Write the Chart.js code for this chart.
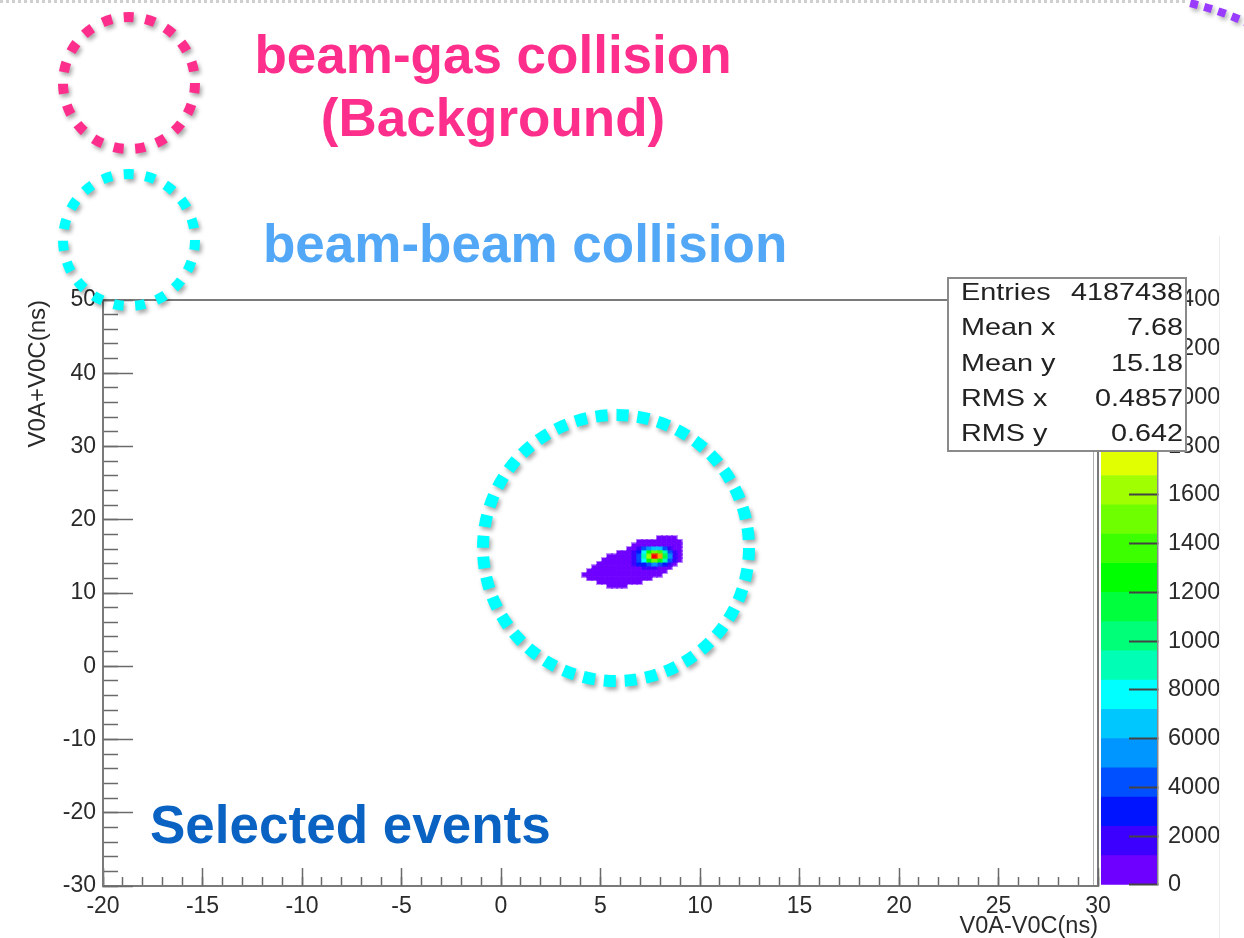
<!DOCTYPE html>
<html><head><meta charset="utf-8">
<script src="https://cdn.jsdelivr.net/npm/chart.js@4.4.1/dist/chart.umd.min.js"></script>
<style>
html,body{margin:0;padding:0;background:#fff;}
#wrap{position:relative;width:1244px;height:938px;overflow:hidden;background:#fff;}
canvas{position:absolute;top:0;}
</style></head><body>
<div id="wrap">
<canvas id="cbar" width="129" height="938" style="left:1090px;width:129px;height:938px"></canvas>
<canvas id="main" width="1244" height="938" style="left:0;width:1244px;height:938px"></canvas>
</div>
<script>
// ---------- data ----------
const xRange = [-20, 30];
const yRange = [-30, 50];
const xTickLabels = ['-20','-15','-10','-5','0','5','10','15','20','25','30'];
const yTickLabels = ['-30','-20','-10','0','10','20','30','40','50'];
const zTickLabels = ['0','2000','4000','6000','8000','10000','12000','14000','16000','18000','20000','22000','24000'];
const zMax = 24120;
const binX = [4.2,4.45,4.7,4.95,5.2,5.45,5.7,5.95,6.2,6.45,6.7,6.95,7.2,7.45,7.7,7.95,8.2,8.45,8.7,8.95,9.2];
const binY = [17.5,17.0,16.5,16.0,15.5,15.0,14.5,14.0,13.5,13.0,12.5,12.0,11.5,11.0];
const counts = [
 [0,0,0,0,0,0,0,0,0,0,0,0,0,0,0,250,400,350,200,0,0],
 [0,0,0,0,0,0,0,0,0,0,0,150,400,600,750,850,900,800,600,250,0],
 [0,0,0,0,0,0,0,0,0,0,200,450,700,900,1100,1150,1000,850,650,300,0],
 [0,0,0,0,0,0,0,0,0,150,400,1400,3700,5800,6700,6200,4100,1900,900,500,0],
 [0,0,0,0,0,0,0,150,500,850,1300,2700,7700,12800,15200,13500,9000,4000,1500,700,0],
 [0,0,0,0,0,250,600,800,1000,1150,1800,3900,9500,16500,23800,20000,12000,5000,2000,900,0],
 [0,0,0,0,200,500,750,900,1000,1150,1600,3700,8000,13000,15000,13200,8600,3800,1400,300,0],
 [0,0,0,200,500,700,850,950,1050,1150,2000,3000,3500,4600,5000,4500,3000,1500,500,0,0],
 [0,0,200,450,650,800,900,1000,1100,1150,1150,1150,1300,1500,1300,1100,900,400,0,0,0],
 [0,200,400,600,750,850,950,1000,1050,1100,1150,1100,1050,1000,900,700,300,0,0,0,0],
 [100,350,550,700,800,900,950,1000,1000,950,900,850,750,600,400,200,0,0,0,0,0],
 [0,200,450,600,700,800,850,850,800,750,650,500,350,150,0,0,0,0,0,0,0],
 [0,0,0,150,350,500,550,550,500,400,250,100,0,0,0,0,0,0,0,0,0],
 [0,0,0,0,0,100,200,200,120,0,0,0,0,0,0,0,0,0,0,0,0]
];
const palette = ['#6e00ff','#3c00ff','#0014ff','#0050ff','#0096ff','#00c8ff','#00ffff','#00ffb4','#00ff78','#00ff3c',
                 '#00ff00','#3cff00','#6eff00','#a0ff00','#e1ff00','#ffd200','#ffa000','#ff6e00','#ff3c00','#ff0000'];
const statLabels = ['Entries','Mean x','Mean y','RMS x','RMS y'];
const statValues = ['4187438','7.68','15.18','0.4857','0.642'];

// ---------- helpers ----------
const FONT = "'Liberation Sans', Arial, Helvetica, sans-serif";
const bandOf = v => Math.min(palette.length - 1, Math.floor(v / (zMax / palette.length)));
const cellImgs = palette.map(col => {
  const c = document.createElement('canvas'); c.width = 7; c.height = 6;
  const g = c.getContext('2d');
  g.globalAlpha = 0.45; g.fillStyle = col; g.fillRect(0, 0, 7, 6);
  g.globalAlpha = 1; g.fillRect(1, 1, 5, 4); return c;
});
const cells = [];
counts.forEach((row, r) => row.forEach((v, c) => { if (v > 0) cells.push({x: binX[c], y: binY[r], v}); }));
cells.sort((a, b) => a.v - b.v);

function dashedCircle(ctx, cx, cy, r, color, lw, dash, gap) {
  ctx.save();
  ctx.beginPath(); ctx.arc(cx, cy, r, 0, Math.PI * 2);
  ctx.setLineDash([dash, gap]); ctx.lineWidth = lw; ctx.strokeStyle = color;
  ctx.shadowColor = 'rgba(0,0,0,0.35)'; ctx.shadowBlur = 4; ctx.shadowOffsetX = 2; ctx.shadowOffsetY = 3;
  ctx.stroke(); ctx.restore();
}

const decor = {
  id: 'decor',
  beforeDatasetsDraw(chart) {
    const {ctx, chartArea: a} = chart;
    ctx.save(); ctx.strokeStyle = '#7a7a7a'; ctx.lineWidth = 2;
    ctx.beginPath(); ctx.moveTo(a.left, a.top); ctx.lineTo(a.right, a.top); ctx.lineTo(a.right, a.bottom); ctx.stroke();
    ctx.strokeStyle = '#b0b0b0'; ctx.lineWidth = 1;
    ctx.beginPath(); ctx.moveTo(a.right - 4.5, a.top + 2); ctx.lineTo(a.right - 4.5, a.bottom); ctx.stroke();
    ctx.restore();
  },
  afterDraw(chart) {
    const ctx = chart.ctx;
    // page edges
    ctx.save();
    ctx.strokeStyle = '#cfcfcf'; ctx.lineWidth = 3; ctx.setLineDash([3, 3]);
    ctx.beginPath(); ctx.moveTo(0, 1.5); ctx.lineTo(1188, 1.5); ctx.stroke();
    ctx.setLineDash([]); ctx.strokeStyle = '#ececec'; ctx.lineWidth = 1;
    ctx.beginPath(); ctx.moveTo(1219.5, 236); ctx.lineTo(1219.5, 938); ctx.stroke();
    ctx.restore();
    // stats box
    ctx.save();
    ctx.fillStyle = '#fff'; ctx.fillRect(948, 278, 238, 173);
    ctx.strokeStyle = '#8a8a8a'; ctx.lineWidth = 2; ctx.strokeRect(948, 278, 238, 173);
    ctx.fillStyle = '#222'; ctx.font = '24px ' + FONT; ctx.textBaseline = 'alphabetic';
    statLabels.forEach((t, i) => {
      const y = 300 + i * 35.3;
      ctx.save(); ctx.translate(961, y); ctx.scale(1.2, 1); ctx.textAlign = 'left'; ctx.fillText(t, 0, 0); ctx.restore();
      ctx.save(); ctx.translate(1183, y); ctx.scale(1.2, 1); ctx.textAlign = 'right'; ctx.fillText(statValues[i], 0, 0); ctx.restore();
    });
    ctx.restore();
    // circles
    dashedCircle(ctx, 129, 83, 66, '#fe2f8c', 10, 10, 11.8);
    dashedCircle(ctx, 129, 240, 66, '#00ffff', 10, 10, 11.8);
    dashedCircle(ctx, 616, 548, 133, '#00ffff', 12, 12, 8.9);
    ctx.save();
    ctx.beginPath(); ctx.arc(1120, 300, 305, -76.7 * Math.PI / 180, -58 * Math.PI / 180);
    ctx.setLineDash([8, 6.5]); ctx.lineWidth = 8; ctx.strokeStyle = '#9a3cff';
    ctx.shadowColor = 'rgba(0,0,0,0.3)'; ctx.shadowBlur = 4; ctx.shadowOffsetX = 2; ctx.shadowOffsetY = 3;
    ctx.stroke(); ctx.restore();
    // texts
    ctx.save();
    ctx.font = 'bold 53px ' + FONT; ctx.textBaseline = 'alphabetic';
    ctx.fillStyle = '#fe2f8c'; ctx.textAlign = 'center';
    ctx.fillText('beam-gas collision', 493, 73);
    ctx.fillText('(Background)', 493, 136);
    ctx.fillStyle = '#52a8f7'; ctx.textAlign = 'left';
    ctx.fillText('beam-beam collision', 263, 262);
    ctx.fillStyle = '#0a62c2';
    ctx.fillText('Selected events', 150, 843);
    ctx.restore();
  }
};

Chart.defaults.font.family = FONT;
Chart.defaults.color = '#2a2a2a';

// ---------- main 2D histogram ----------
new Chart(document.getElementById('main'), {
  type: 'scatter',
  data: { datasets: [{
    data: cells,
    pointStyle: ctx => cellImgs[bandOf(ctx.raw ? ctx.raw.v : 0)],
    pointRadius: 3, pointHoverRadius: 3, clip: false
  }]},
  options: {
    responsive: false, animation: false, events: [], devicePixelRatio: 1,
    layout: { padding: { left: 0, top: 300, right: 146, bottom: 0 } },
    plugins: { legend: { display: false }, tooltip: { enabled: false } },
    scales: {
      x: {
        type: 'linear', position: 'bottom', weight: 1, min: xRange[0], max: xRange[1],
        ticks: { stepSize: 1, autoSkip: false, includeBounds: false, maxRotation: 0, padding: 16,
          font: { size: 23 }, color: '#2a2a2a',
          callback: v => (v % 5 === 0 ? xTickLabels[(v - xRange[0]) / 5] : '') },
        grid: { drawOnChartArea: false, tickLength: -9, tickColor: '#6a6a6a', tickWidth: 1.5, z: 1 },
        border: { display: true, color: '#7a7a7a', width: 2, z: 1 },
        title: { display: true, text: 'V0A-V0C(ns)', align: 'end', color: '#2a2a2a',
          font: { size: 23.5, lineHeight: 1 }, padding: 0 },
        afterFit: s => { s.height = 52; }
      },
      xMajor: {
        type: 'linear', position: 'bottom', weight: 0, min: xRange[0], max: xRange[1],
        ticks: { display: false, stepSize: 5, includeBounds: false },
        grid: { drawOnChartArea: false, tickLength: -18, tickColor: '#6a6a6a', tickWidth: 1.5, z: 1 },
        border: { display: false },
        afterFit: s => { s.height = 0; }
      },
      y: {
        type: 'linear', position: 'left', weight: 1, min: yRange[0], max: yRange[1],
        ticks: { stepSize: 2, autoSkip: false, includeBounds: false, padding: 22,
          font: { size: 23 }, color: '#2a2a2a',
          callback: v => (v % 10 === 0 ? yTickLabels[(v - yRange[0]) / 10] : '') },
        grid: { drawOnChartArea: false, tickLength: -15, tickColor: '#6a6a6a', tickWidth: 1.5, z: 1 },
        border: { display: true, color: '#7a7a7a', width: 2, z: 1 },
        title: { display: true, text: 'V0A+V0C(ns)', align: 'end', color: '#2a2a2a',
          font: { size: 24 }, padding: { top: 24, bottom: 0 } },
        afterFit: s => { s.width = 103; }
      },
      yMajor: {
        type: 'linear', position: 'left', weight: 0, min: yRange[0], max: yRange[1],
        ticks: { display: false, stepSize: 10, includeBounds: false },
        grid: { drawOnChartArea: false, tickLength: -30, tickColor: '#6a6a6a', tickWidth: 1.5, z: 1 },
        border: { display: false },
        afterFit: s => { s.width = 0; }
      }
    }
  },
  plugins: [decor]
});

// ---------- colour bar ----------
const bandSize = zMax / palette.length;
new Chart(document.getElementById('cbar'), {
  type: 'bar',
  data: { labels: ['z'], datasets: palette.map(col => ({
    data: [bandSize], backgroundColor: col, borderWidth: 0, barPercentage: 1, categoryPercentage: 1 })) },
  options: {
    responsive: false, animation: false, events: [], devicePixelRatio: 1,
    layout: { padding: { left: 11, top: 300, right: 0, bottom: 52 } },
    plugins: { legend: { display: false }, tooltip: { enabled: false } },
    scales: {
      x: { display: false, stacked: true },
      y: {
        stacked: true, position: 'right', min: 0, max: zMax,
        ticks: { stepSize: 2000, autoSkip: false, includeBounds: false, padding: 39,
          font: { size: 23.5 }, color: '#2a2a2a',
          callback: (v, i) => zTickLabels[i] },
        grid: { drawOnChartArea: false, tickLength: -29, tickColor: '#444', tickWidth: 2, z: 1 },
        border: { display: true, color: '#8a8a8a', width: 1.5, z: 1 },
        afterFit: s => { s.width = 61; }
      }
    }
  }
});
</script>
</body></html>
